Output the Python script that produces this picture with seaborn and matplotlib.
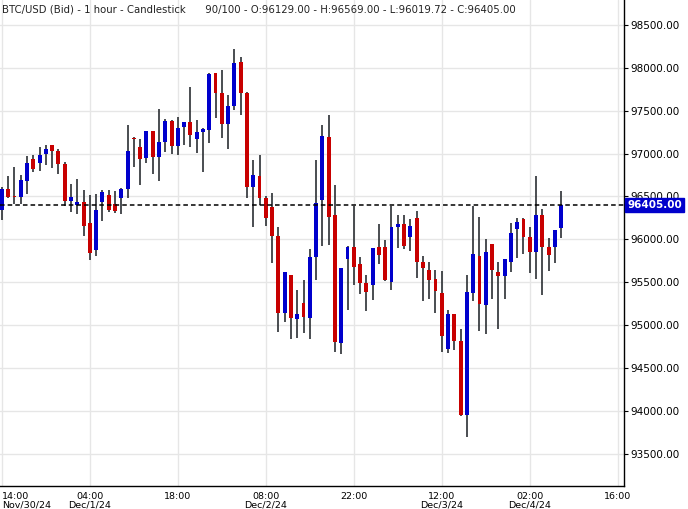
import matplotlib
matplotlib.use("Agg")
import matplotlib.pyplot as plt
import seaborn as sns
import numpy as np
import pandas as pd

opens = [96343,96588,96499,96494,96681,96937,96891,96996,97101,97031,96879,96448,96401,96436,96191,95876,96436,96518,96413,96483,
         96588,97179,97077,96949,97264,96961,97136,97380,97089,97311,97369,97171,97252,97275,97940,97707,97346,97555,98068,97707,
         96611,96739,96483,96378,96039,95142,95585,95072,95258,95083,95795,96459,97194,96284,94792,95771,95911,95713,95491,95468,
         95911,95911,95503,96144,96179,96028,96249,95736,95643,95538,95375,94722,95130,94815,93952,95375,95806,95235,95946,95620,
         95573,95736,96121,96238,96028,95853,96284,95911,95911,96129]
highs = [96615,96739,96848,96751,96972,96984,97077,97101,97105,97054,96902,96646,96704,96576,96518,96529,96576,96576,96564,96599,
         97334,97194,97171,97264,97264,97520,97404,97392,97427,97369,97777,97392,97299,97944,97940,97975,97684,98220,98127,97719,
         96926,96984,96506,96541,96144,95620,95585,95410,95527,95888,96926,97334,97450,96634,95666,95923,96389,95795,95585,95900,
         96179,95993,96389,96284,96284,96238,96331,95806,95736,95643,95631,95177,95130,94955,95585,96389,96261,96004,95946,95736,
         95771,96191,96249,96249,96144,96739,96354,96016,96109,96569]
lows = [96226,96483,96413,96413,96529,96786,96798,96867,96832,96762,96389,96320,96296,96039,95760,95806,96214,96320,96308,96296,
        96483,96844,96634,96891,96762,96681,97019,96996,96984,97101,97077,97007,96786,97124,97415,97182,97054,97509,97450,96483,
        96144,96401,96156,95725,94920,95037,94838,94850,94908,94838,95527,95923,95935,94687,94664,95177,95468,95363,95165,95293,
        95713,95515,95410,95900,95888,95864,95550,95281,95305,95142,94687,94675,94710,93940,93696,95281,94932,94897,95305,94955,
        95305,95620,95783,95829,95608,95538,95351,95631,95725,96019.72]
closes = [96588,96494,96494,96692,96891,96821,96984,97054,97031,96879,96448,96494,96436,96156,95841,96343,96553,96343,96331,96588,
          97031,97171,96937,97264,96961,97136,97380,97089,97299,97369,97217,97252,97287,97932,97707,97346,97555,98057,97707,96611,
          96751,96483,96249,96039,95142,95620,95083,95130,95095,95795,96424,97206,96261,94804,95666,95911,95678,95491,95386,95900,
          95818,95526,96144,96179,95923,96156,95736,95666,95526,95398,94873,95130,94815,93952,95386,95829,95247,95853,95643,95573,
          95771,96074,96203,96028,95853,96284,95911,95818,96109,96405]

tick_pos = [0, 14, 28, 42, 56, 70, 84, 98]
tick_labels = ["14:00\nNov/30/24", "04:00\nDec/1/24", "18:00", "08:00\nDec/2/24", "22:00",
               "12:00\nDec/3/24", "02:00\nDec/4/24", "16:00"]
y_ticks = [93500, 94000, 94500, 95000, 95500, 96000, 96500, 97000, 97500, 98000, 98500]
last_price = 96405
title = "BTC/USD (Bid) - 1 hour - Candlestick      90/100 - O:96129.00 - H:96569.00 - L:96019.72 - C:96405.00"

df = pd.DataFrame({"o": opens, "h": highs, "l": lows, "c": closes})
df["x"] = np.arange(len(df))
df["up"] = df["c"] >= df["o"]

sns.set_style("white")
plt.rcParams['font.family'] = ['DejaVu Sans']
fig = plt.figure(figsize=(6.88, 5.09), dpi=100)
ax = fig.add_axes([0, 23/509, 624/688, 486/509])

for x in tick_pos:
    ax.axvline(x, color="#e6e6e6", lw=1, zorder=0)
for y in y_ticks:
    ax.axhline(y, color="#e6e6e6", lw=1, zorder=0)

ax.vlines(df["x"], df["l"], df["h"], color="#2b2f33", lw=1.2, zorder=2)
cols = np.where(df["up"], "#0000cc", "#c80000")
bottoms = np.minimum(df["o"], df["c"])
heights = np.maximum(np.abs(df["c"] - df["o"]), 12)
ax.bar(df["x"], heights, bottom=bottoms, width=0.62, color=cols, zorder=3, linewidth=0)

ax.axhline(last_price, color="black", ls=(0, (3, 2)), lw=1.1, zorder=4)

ax.set_xlim(-0.3, 99)
ax.set_ylim(93125, 98790)
ax.yaxis.tick_right()
ax.set_yticks(y_ticks)
ax.set_yticklabels([f"{v:.2f}" for v in y_ticks], fontsize=7.5)
ax.set_xticks(tick_pos)
ax.set_xticklabels(tick_labels, fontsize=6.8, linespacing=0.85)
ax.tick_params(axis="both", length=3, pad=1.5, colors="black")
ax.get_xticklabels()[0].set_horizontalalignment("left")
for s in ["left", "top"]:
    ax.spines[s].set_visible(False)
for s in ["right", "bottom"]:
    ax.spines[s].set_color("black")
    ax.spines[s].set_linewidth(1)

ax.text(1.005, last_price, f"{last_price:.2f}", transform=ax.get_yaxis_transform(),
        fontsize=7.5, color="white", fontweight="bold", va="center", ha="left",
        bbox=dict(boxstyle="square,pad=0.2", fc="#0000cc", ec="#0000cc"), zorder=5, clip_on=False)

ax.text(0.003, 0.99, title, transform=ax.transAxes, fontsize=7.3, va="top", ha="left", color="#222222")

fig.savefig("out.png", dpi=100)
